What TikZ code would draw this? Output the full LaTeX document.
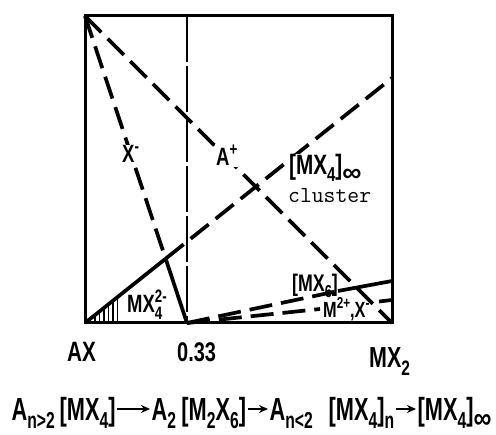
\documentclass[tikz,border=0pt]{standalone}
\usepackage{graphicx}
\usepackage{fontspec}
\setmainfont{Liberation Sans}[FakeStretch=0.74]
\newfontfamily\frmfont{Liberation Sans}[FakeStretch=0.68]
\usetikzlibrary{arrows.meta}
\newcommand\lo[1]{\raisebox{-0.25em}{\scalebox{0.72}{#1}}}
\newcommand\hi[1]{\raisebox{0.42em}{\scalebox{0.72}{#1}}}
\newcommand\lf[1]{\fontsize{#1}{#1}\selectfont\bfseries}
\newcommand\infy{\scalebox{1.8}[1.3]{∞}}
\newcommand\infyb{\scalebox{1.6}[1.3]{∞}}
\tikzset{
  boxline/.style={line width=3pt},
  dline/.style={line width=3.7pt, dash pattern=on 23pt off 9pt},
  sline/.style={line width=3.7pt},
  vline/.style={line width=2pt, dash pattern=on 46pt off 4pt},
  hatchline/.style={line width=1.4pt},
  lbl/.style={inner sep=1pt, anchor=base west},
  frm/.style={inner sep=1.5pt, anchor=base west, font=\frmfont\lf{32}},
  arr/.style={line width=2.5pt, -{Stealth[length=9pt,width=8pt]}},
}
\begin{document}
\begin{tikzpicture}[x=1pt,y=-1pt]
\useasboundingbox (0,0) rectangle (496,435);
% frame
\coordinate (TL) at (85,16);
\coordinate (TR) at (392,16);
\coordinate (BL) at (85,323);
\coordinate (BR) at (392,323);
\coordinate (V1) at (187,16);
\coordinate (Q) at (187,323);
\coordinate (R) at (392,78);
\coordinate (U) at (392,281);
\coordinate (Um) at (338,291);
\coordinate (L) at (392,300);
\coordinate (La) at (320,309);
\coordinate (Lb) at (379,301.5);
\coordinate (P) at (intersection of BL--R and TL--Q);
% hatching
\foreach \x in {95,99.5,...,120}
  \draw[hatchline] (\x,323) -- (\x,{323-(\x-85)*0.798});
\draw[boxline] (TL) rectangle (BR);
\draw[vline] (V1) -- (Q);
% lines
\draw[dline] (TL) -- (BR);
\draw[dline] (TL) -- (P);
\draw[sline] (P) -- (Q);
\draw[sline] (BL) -- (P);
\draw[dline] (P) -- (R);
\draw[dline] (Q) -- (Um);
\draw[sline] (Um) -- (U);
\draw[dline] (Q) -- (La);
\draw[sline] (Lb) -- (L);
% labels
\node[lbl, fill=white, font=\lf{25}] (xm) at (121,163) {X\hi{-}};
\node[lbl, fill=white, font=\lf{25}] (ap) at (215,166) {A\hi{+}};
\node[lbl, fill=white, font=\lf{28}] (mx4) at (288,175) {[MX\lo{4}]\lo{\infy}};
\node[lbl, font=\fontsize{23}{23}\ttfamily] (cl) at (287,203) {cluster};
\node[lbl, font=\lf{24}] (mx6) at (291,292) {[MX\lo{6}]};
\node[lbl, font=\lf{22}] (mx) at (322,318) {M\hi{2+},X\hi{-}};
\node[lbl, font=\lf{25}] (mx42) at (126,313) {MX\rlap{\hi{2-}}\lo{4}};
\node[lbl, inner sep=0pt, font=\lf{28}] (ax) at (67,362) {AX};
\node[lbl, inner sep=0pt, font=\lf{27}] (c33) at (177,362) {0.33};
\node[lbl, inner sep=0pt, font=\lf{29}] (mx2) at (369,368) {MX\lo{2}};
% formula
\coordinate (mid) at (0,409);
\node[frm] (f1) at (10,421) {A\lo{n>2}};
\node[frm] (f2) at (58,421) {[MX\lo{4}]};
\node[frm] (f3) at (150,421) {A\lo{2}\,[M\lo{2}X\lo{6}]};
\node[frm] (f4) at (268,421) {A\lo{n<2}};
\node[frm] (f5) at (327,421) {[MX\lo{4}]\lo{n}};
\node[frm] (f6) at (416,421) {[MX\lo{4}]\lo{\infyb}};
\draw[arr] (f2.east |- mid) -- (f3.west |- mid);
\draw[arr] (f3.east |- mid) -- (f4.west |- mid);
\draw[arr] (f5.east |- mid) -- (f6.west |- mid);
\end{tikzpicture}
\end{document}
